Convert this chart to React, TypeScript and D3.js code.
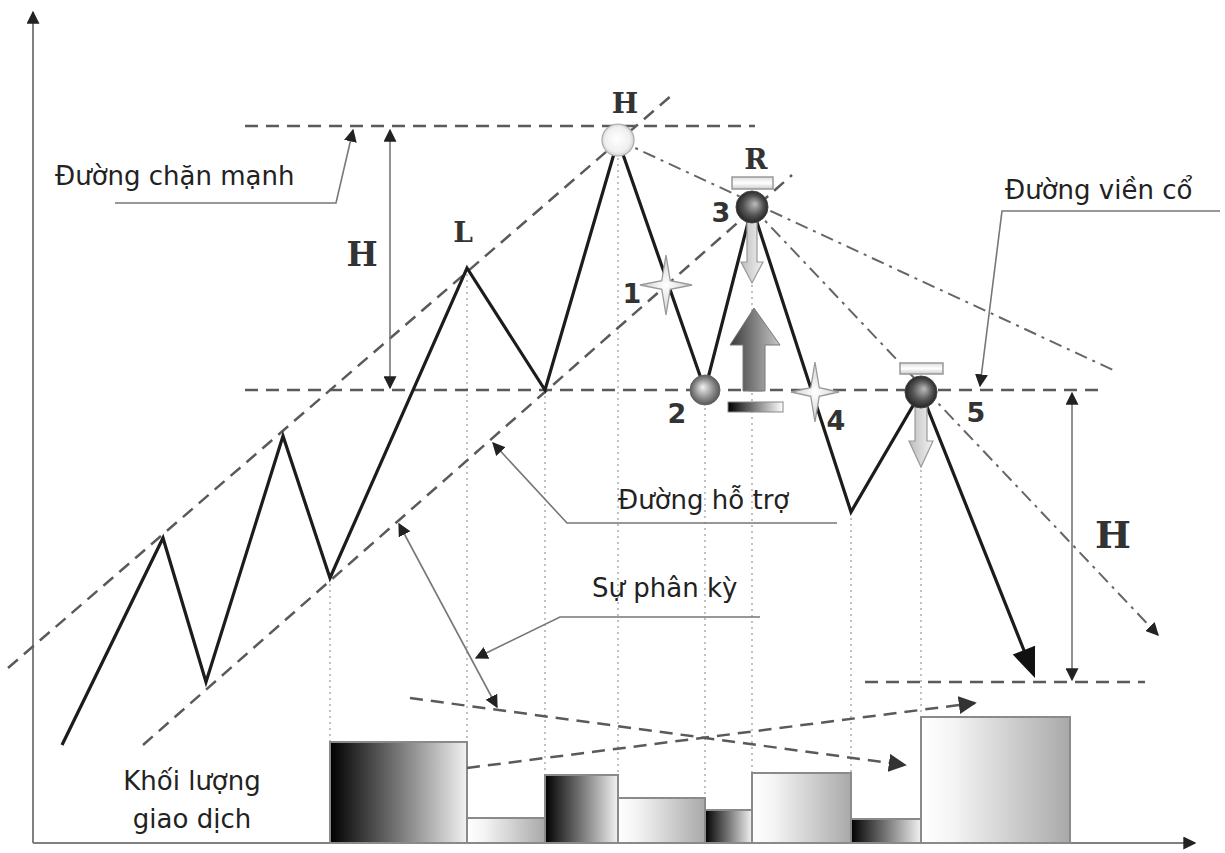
import React from "react";
import * as d3 from "d3";

// price path: time units (x) and price units (y), origin at the axes corner
const priceT = [29, 130, 173, 250, 297, 434, 512, 585, 672, 719, 818, 888, 1002];
const priceV = [98, 305, 161, 407, 265, 575, 453, 703, 453, 636, 331, 451, 165];

// volume bars
const barEdges = [297, 434, 512, 585, 672, 719, 818, 888, 1037];
const volume = [101, 25, 68, 45, 33, 70, 24, 126];
const barShade = ["dark", "light", "dark", "light", "dark", "light", "dark", "light"];

// horizontal levels [value, from t, to t]
const resistance = [717, 212, 722];
const neckline = [453, 212, 1072];
const target = [161, 832, 1112];

// trend channel [t1, v1, t2, v2]
const upperChannel = [-25, 175, 639, 748];
const lowerChannel = [110, 98, 759, 668];
const headTrend = [585, 703, 1080, 473];
const shoulderTrend = [719, 636, 1125, 208];

// volume divergence arrows
const volDown = [377, 145, 872, 78];
const volUp = [434, 75, 942, 140];

const W = 1225;
const H = 853;

const x = d3.scaleLinear().domain([0, 1162]).range([33, 1195]);
const y = d3.scaleLinear().domain([0, 833]).range([843, 10]);

const star = (cx: number, cy: number, rx: number, ry: number, ri: number) => {
  const pts: [number, number][] = [];
  for (let i = 0; i < 8; i++) {
    const a = (i * Math.PI) / 4;
    const outer = i % 2 == 0;
    const px = outer ? rx : ri;
    const py = outer ? ry : ri;
    pts.push([cx + Math.cos(a) * px, cy + Math.sin(a) * py]);
  }
  return d3.line()(pts.concat([pts[0]])) + "Z";
};

export default function App() {
  const pts: [number, number][] = priceT.map((t, i) => [x(t), y(priceV[i])]);
  // shorten last segment so the arrowhead sits at the end
  const last = pts[pts.length - 1];
  const prev = pts[pts.length - 2];
  const dx = last[0] - prev[0];
  const dy = last[1] - prev[1];
  const len = Math.sqrt(dx * dx + dy * dy);
  const ux = dx / len;
  const uy = dy / len;
  const headLen = 30;
  const headW = 12;
  const base: [number, number] = [last[0] - ux * headLen, last[1] - uy * headLen];
  const linePts = pts.slice(0, -1).concat([[base[0] + ux * 2, base[1] + uy * 2]]);
  const arrowHead = [
    last,
    [base[0] - uy * headW, base[1] + ux * headW],
    [base[0] + uy * headW, base[1] - ux * headW],
  ]
    .map((p) => p.join(","))
    .join(" ");

  const line = d3.line();
  const seg = (s: number[]) => line([[x(s[0]), y(s[1])], [x(s[2]), y(s[3])]]) as string;

  const dashed = { stroke: "#5a5a5a", strokeWidth: 2.5, strokeDasharray: "13 8", fill: "none" };
  const dashDot = { stroke: "#666", strokeWidth: 2, strokeDasharray: "13 6 3 6", fill: "none" };
  const leader = { stroke: "#777", strokeWidth: 1.6, fill: "none" };
  const vietFont = { fontFamily: "DejaVu Sans", fontSize: 26, fill: "#222" };
  const monoFont = { fontFamily: "DejaVu Serif", fontWeight: 700, fill: "#333" };
  const numFont = { fontFamily: "DejaVu Sans", fontWeight: 700, fontSize: 27, fill: "#333" };

  const ball = (i: number) => [x(priceT[i]), y(priceV[i])];
  const bH = ball(7);
  const b2 = ball(8);
  const b3 = ball(9);
  const b5 = ball(11);

  return (
    <svg width={W} height={H} style={{ position: "absolute", left: 0, top: 0, background: "#fff" }}>
      <defs>
        <marker id="tri" viewBox="0 0 10 10" refX="9" refY="5" markerWidth="13" markerHeight="13"
          markerUnits="userSpaceOnUse" orient="auto-start-reverse">
          <path d="M0,0 L10,5 L0,10 Z" fill="#222" />
        </marker>
        <marker id="triBig" viewBox="0 0 10 10" refX="9" refY="5" markerWidth="18" markerHeight="18"
          markerUnits="userSpaceOnUse" orient="auto-start-reverse">
          <path d="M0,0 L10,5 L0,10 Z" fill="#333" />
        </marker>
        <linearGradient id="gDark" x1="0" x2="1" y1="0" y2="0">
          <stop offset="0" stopColor="#000" />
          <stop offset="0.5" stopColor="#777" />
          <stop offset="1" stopColor="#f2f2f2" />
        </linearGradient>
        <linearGradient id="gLight" x1="0" x2="1" y1="0" y2="0">
          <stop offset="0" stopColor="#fff" />
          <stop offset="0.22" stopColor="#f4f4f4" />
          <stop offset="1" stopColor="#a9a9a9" />
        </linearGradient>
        <linearGradient id="gBarSmall" x1="0" x2="1" y1="0" y2="0">
          <stop offset="0" stopColor="#000" />
          <stop offset="1" stopColor="#fff" />
        </linearGradient>
        <linearGradient id="gUp" x1="0" x2="1" y1="0" y2="0">
          <stop offset="0" stopColor="#3a3a3a" />
          <stop offset="1" stopColor="#c8c8c8" />
        </linearGradient>
        <linearGradient id="gDown" x1="0" x2="1" y1="0" y2="0">
          <stop offset="0" stopColor="#bdbdbd" />
          <stop offset="1" stopColor="#f2f2f2" />
        </linearGradient>
        <linearGradient id="gCap" x1="0" x2="0" y1="0" y2="1">
          <stop offset="0" stopColor="#ddd" />
          <stop offset="0.5" stopColor="#fff" />
          <stop offset="1" stopColor="#ccc" />
        </linearGradient>
        <radialGradient id="rWhite" cx="0.5" cy="0.5" r="0.55" fx="0.45" fy="0.45">
          <stop offset="0" stopColor="#fff" />
          <stop offset="0.7" stopColor="#f0f0f0" />
          <stop offset="1" stopColor="#c8c8c8" />
        </radialGradient>
        <radialGradient id="rGray" cx="0.5" cy="0.5" r="0.55" fx="0.42" fy="0.4">
          <stop offset="0" stopColor="#f2f2f2" />
          <stop offset="0.6" stopColor="#8a8a8a" />
          <stop offset="1" stopColor="#4a4a4a" />
        </radialGradient>
        <radialGradient id="rDark" cx="0.5" cy="0.5" r="0.55" fx="0.6" fy="0.4">
          <stop offset="0" stopColor="#bdbdbd" />
          <stop offset="0.55" stopColor="#555" />
          <stop offset="1" stopColor="#1a1a1a" />
        </radialGradient>
        <radialGradient id="rStar" cx="0.5" cy="0.5" r="0.5">
          <stop offset="0" stopColor="#fff" />
          <stop offset="1" stopColor="#d0d0d0" />
        </radialGradient>
      </defs>

      {/* axes */}
      <line x1={x(0)} y1={y(0)} x2={x(0)} y2={y(833) + 2} stroke="#808080" strokeWidth={2} markerEnd="url(#tri)" />
      <line x1={x(0)} y1={y(0)} x2={x(1162)} y2={y(0)} stroke="#808080" strokeWidth={2} markerEnd="url(#tri)" />

      {/* vertical guides */}
      {priceT.slice(4, 12).map((t, i) => (
        <line key={"g" + i} x1={x(t)} x2={x(t)} y1={y(priceV[i + 4])} y2={y(0)}
          stroke="#a8a8a8" strokeWidth={1.4} strokeDasharray="2 4" />
      ))}

      {/* volume bars */}
      {volume.map((v, i) => (
        <rect key={"b" + i} x={x(barEdges[i])} y={y(v)} width={x(barEdges[i + 1]) - x(barEdges[i])}
          height={y(0) - y(v)} fill={barShade[i] == "dark" ? "url(#gDark)" : "url(#gLight)"}
          stroke="#8a8a8a" strokeWidth={2} />
      ))}

      {/* volume divergence */}
      <path d={seg(volDown)} {...dashed} markerEnd="url(#triBig)" />
      <path d={seg(volUp)} {...dashed} markerEnd="url(#triBig)" />

      {/* levels */}
      {[resistance, neckline, target].map((l, i) => (
        <path key={"l" + i} d={seg([l[1], l[0], l[2], l[0]])} {...dashed} />
      ))}

      {/* channel */}
      <path d={seg(upperChannel)} {...dashed} />
      <path d={seg(lowerChannel)} {...dashed} />
      <path d={seg(headTrend)} {...dashDot} />
      <path d={seg(shoulderTrend)} {...dashDot} markerEnd="url(#tri)" />

      {/* price */}
      <path d={line(linePts) as string} fill="none" stroke="#1c1c1c" strokeWidth={3.2} strokeLinejoin="miter" />
      <polygon points={arrowHead} fill="#111" />

      {/* measure arrows */}
      <line x1={390} y1={130} x2={390} y2={388} {...leader} markerStart="url(#tri)" markerEnd="url(#tri)" />
      <line x1={1072} y1={393} x2={1072} y2={680} {...leader} markerStart="url(#tri)" markerEnd="url(#tri)" />
      <text x={362} y={266} {...monoFont} fontSize={33} textAnchor="middle">H</text>
      <text x={1113} y={548} {...monoFont} fontSize={38} textAnchor="middle">H</text>

      {/* callouts */}
      <polyline points="115,203 336,203 353,130" {...leader} markerEnd="url(#tri)" />
      <text x={55} y={185} {...vietFont}>Đường chặn mạnh</text>

      <polyline points="1220,211 1002,211 980,386" {...leader} markerEnd="url(#tri)" />
      <text x={1005} y={199} {...vietFont}>Đường viền cổ</text>

      <polyline points="837,523 567,523 493,443" {...leader} markerEnd="url(#tri)" />
      <text x={618} y={509} {...vietFont}>Đường hỗ trợ</text>

      <polyline points="760,617 560,617 476,658" {...leader} markerEnd="url(#tri)" />
      <text x={592} y={597} {...vietFont}>Sự phân kỳ</text>

      <line x1={399} y1={524} x2={497} y2={707} {...leader} markerStart="url(#tri)" markerEnd="url(#tri)" />

      <text x={192} y={790} {...vietFont} textAnchor="middle">Khối lượng</text>
      <text x={192} y={828} {...vietFont} textAnchor="middle">giao dịch</text>

      {/* pattern labels */}
      <text x={463} y={242} {...monoFont} fontSize={28} textAnchor="middle">L</text>
      <text x={625} y={113} {...monoFont} fontSize={28} textAnchor="middle">H</text>
      <text x={756} y={169} {...monoFont} fontSize={28} textAnchor="middle">R</text>

      {/* R signals */}
      <rect x={732} y={177} width={41} height={12} fill="url(#gCap)" stroke="#999" strokeWidth={1.5} />
      <path d={`M${b3[0] - 5},${b3[1] + 10} L${b3[0] + 5},${b3[1] + 10} L${b3[0] + 5},262 L${b3[0] + 11},262 L${b3[0]},283 L${b3[0] - 11},262 L${b3[0] - 5},262 Z`}
        fill="url(#gDown)" stroke="#999" strokeWidth={1.2} />
      <rect x={900} y={363} width={43} height={11} fill="url(#gCap)" stroke="#999" strokeWidth={1.5} />
      <path d={`M${b5[0] - 6},${b5[1] + 10} L${b5[0] + 6},${b5[1] + 10} L${b5[0] + 6},441 L${b5[0] + 12},441 L${b5[0]},467 L${b5[0] - 12},441 L${b5[0] - 6},441 Z`}
        fill="url(#gDown)" stroke="#999" strokeWidth={1.2} />

      {/* up arrow */}
      <path d="M743,391 L743,345 L730,345 L754,308 L780,345 L765,345 L765,391 Z" fill="url(#gUp)" stroke="#777" strokeWidth={1} />
      <rect x={728} y={402} width={55} height={10} fill="url(#gBarSmall)" stroke="#888" strokeWidth={1} />

      {/* stars */}
      <path d={star(666, 285, 26, 30, 6)} fill="url(#rStar)" stroke="#999" strokeWidth={1.3} />
      <path d={star(815, 392, 24, 30, 6)} fill="url(#rStar)" stroke="#999" strokeWidth={1.3} />

      {/* balls */}
      <circle cx={bH[0]} cy={bH[1]} r={16} fill="url(#rWhite)" stroke="#aaa" strokeWidth={1.2} />
      <circle cx={b2[0]} cy={b2[1]} r={15} fill="url(#rGray)" stroke="#666" strokeWidth={1} />
      <circle cx={b3[0]} cy={b3[1]} r={16} fill="url(#rDark)" stroke="#444" strokeWidth={1} />
      <circle cx={b5[0]} cy={b5[1]} r={16} fill="url(#rDark)" stroke="#444" strokeWidth={1} />

      {/* numbers */}
      <text x={632} y={303} {...numFont} textAnchor="middle">1</text>
      <text x={677} y={423} {...numFont} textAnchor="middle">2</text>
      <text x={721} y={222} {...numFont} textAnchor="middle">3</text>
      <text x={836} y={430} {...numFont} textAnchor="middle">4</text>
      <text x={976} y={422} {...numFont} textAnchor="middle">5</text>
    </svg>
  );
}
